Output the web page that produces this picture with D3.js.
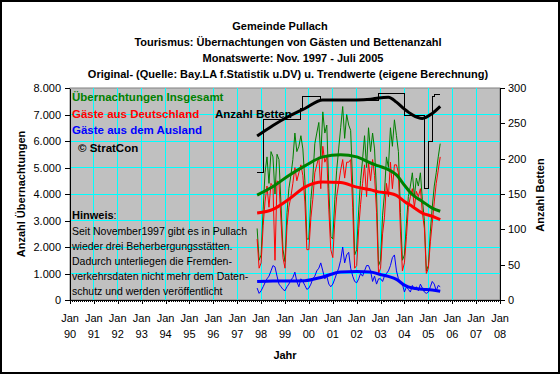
<!DOCTYPE html>
<html>
<head>
<meta charset="utf-8">
<script src="https://cdn.jsdelivr.net/npm/d3@7"></script>
<style>
  body { margin: 0; background: #fff; }
  svg { display: block; font-family: "Liberation Sans", Arial, sans-serif; }
</style>
</head>
<body>
<svg id="chart" width="560" height="374"></svg>
<script>
// Gemeinde Pullach - Übernachtungen und Betten, Monatswerte Nov. 1997 - Juli 2005

// monthly values, first value = Nov 1997
let insgesamt = [
  2700, 1500,
  1700, 3400, 4800, 5400, 4400, 5600, 5400, 4000, 5500, 5300, 3600, 1900,   // 1998
  1450, 3300, 4200, 4700, 5300, 6300, 5600, 5800, 6200, 5700, 4500, 2300,   // 1999
  2300, 3800, 4600, 5900, 6300, 6700, 5400, 7100, 6300, 6600, 4200, 2400,   // 2000
  2300, 3800, 4900, 5700, 6500, 7300, 6100, 7000, 6600, 6400, 4300, 1700,   // 2001
  1900, 3400, 4500, 5300, 6200, 5000, 6500, 5600, 6300, 5700, 4000, 1300,   // 2002
  1500, 3200, 4000, 5400, 5000, 6500, 5800, 6800, 6200, 5600, 3300, 1500,   // 2003
  1700, 2900, 3900, 4300, 4800, 3900, 4600, 4300, 4800, 3800, 3000, 1100,   // 2004
  1300, 2600, 3500, 4300, 4800, 5400, 5900                                  // 2005
];
let deutschland = [
  2300, 1200,
  1400, 2800, 3700, 4300, 3500, 4400, 4300, 1500, 4500, 4400, 3000, 1600,
  1200, 2800, 3500, 3900, 4400, 5000, 4500, 4800, 5100, 4700, 3700, 1900,
  1900, 3100, 3800, 4800, 5100, 5400, 4200, 5800, 5200, 5400, 3400, 1900,
  1600, 3000, 3900, 4400, 4900, 5300, 4600, 5200, 5200, 5300, 3500, 1200,
  1300, 2700, 3600, 4400, 5100, 3900, 5200, 4500, 5300, 4700, 3300, 1000,
  1200, 2500, 3100, 4400, 3900, 5200, 4200, 5100, 5100, 4800, 2600, 1100,
  1400, 2400, 3500, 3900, 4200, 3500, 4100, 3900, 4200, 3300, 2700, 1000,
  1200, 2200, 2900, 3700, 4400, 4900, 5400
];
let ausland = [
  450, 250,
  350, 500, 650, 800, 900, 1100, 1300, 1250, 900, 600, 500, 400,
  350, 500, 600, 750, 850, 1050, 700, 500, 800, 700, 550, 400,
  450, 600, 800, 900, 1100, 1200, 1400, 1100, 800, 900, 600, 500,
  600, 800, 1000, 1200, 1500, 2000, 1400, 1700, 1800, 1200, 900, 700,
  650, 800, 1000, 900, 1100, 1300, 1300, 1100, 700, 900, 600, 800,
  800, 700, 900, 1000, 1100, 1300, 1600, 1700, 1100, 800, 700, 600,
  300, 500, 400, 300, 550, 400, 500, 350, 600, 450, 300, 250,
  300, 500, 700, 600, 350, 550, 500
];

// Anzahl Betten (step values, month index from Nov 1997)
let bettenMonths = [0, 3, 22, 23, 32, 61, 74, 84, 86, 88, 89, 92];
let bettenValues = [180, 256, 271, 288, 283, 292, 261, 158, 224, 288, 291, 291];

// trend values (eigene Berechnung), month index from Nov 1997
let trendMonths      = [0, 8, 16, 24, 33, 42, 50, 57, 61, 66, 70, 74, 78, 83, 88, 92];
let trendInsgesamt   = [3960, 4280, 4700, 5060, 5400, 5480, 5400, 5170, 5060, 4920, 4720, 4330, 3980, 3720, 3470, 3350];
let trendDeutschland = [3280, 3420, 3800, 4260, 4450, 4430, 4260, 4160, 4080, 4040, 3950, 3720, 3530, 3280, 3160, 3030];
let trendAusland     = [700, 720, 720, 730, 870, 1060, 1080, 1060, 980, 890, 780, 560, 450, 410, 380, 330];
let trendBetten      = [232, 247, 260, 271, 283, 283, 283, 284, 286, 287, 280, 270, 262, 257, 264, 274];

let leftTicks = [0, 1000, 2000, 3000, 4000, 5000, 6000, 7000, 8000];
let rightTicks = [0, 50, 100, 150, 200, 250, 300];
let yearLabels = ["90","91","92","93","94","95","96","97","98","99","00","01","02","03","04","05","06","07","08"];

let titleLines = [
  "Gemeinde Pullach",
  "Tourismus: Übernachtungen von Gästen und Bettenanzahl",
  "Monatswerte: Nov. 1997 - Juli 2005",
  "Original- (Quelle: Bay.LA f.Statistik u.DV) u. Trendwerte (eigene Berechnung)"
];
let legendNames = ["Übernachtungen Insgesamt", "Gäste aus Deutschland", "Gäste aus dem Ausland"];
let legendColors = ["#008000", "#ff0000", "#0000ff"];
let hinweisLines = [
  "Seit November1997 gibt es in Pullach",
  "wieder drei Beherbergungsstätten.",
  "Dadurch unterliegen die Fremden-",
  "verkehrsdaten nicht mehr dem Daten-",
  "schutz und werden veröffentlicht"
];

let svg = d3.select("svg#chart");
let plotLeft = 70, plotRight = 500, plotTop = 88, plotBottom = 300;

let de = d3.formatLocale({decimal: ",", thousands: ".", grouping: [3], currency: ["", " €"]});
let fmt = de.format(",");

let monthDate = (i) => new Date(1997, 10 + i, 1);

let x = d3.scaleTime()
  .domain([new Date(1990, 0, 1), new Date(2008, 0, 1)])
  .range([plotLeft, plotRight]);
let y = d3.scaleLinear().domain([0, 8000]).range([plotBottom, plotTop]);
let yB = d3.scaleLinear().domain([0, 300]).range([plotBottom, plotTop]);

let years = d3.timeYear.range(new Date(1990, 0, 1), new Date(2008, 0, 2));
let months = d3.timeMonth.range(new Date(1990, 0, 1), new Date(2008, 0, 1));

// outer frame
svg.append("rect")
  .attr("x", 1).attr("y", 1).attr("width", 558).attr("height", 372)
  .attr("fill", "#fff").attr("stroke", "#000").attr("stroke-width", 2);

// titles
let titleX = [280, 288, 293, 288];
svg.append("g").selectAll("text")
  .data(titleLines)
  .join("text")
  .attr("x", (d, i) => titleX[i])
  .attr("y", (d, i) => 30 + i * 16)
  .attr("text-anchor", "middle")
  .attr("font-size", 11)
  .attr("font-weight", "bold")
  .text(d => d);

// plot area
svg.append("rect")
  .attr("x", plotLeft).attr("y", plotTop)
  .attr("width", plotRight - plotLeft).attr("height", plotBottom - plotTop)
  .attr("fill", "#c0c0c0").attr("stroke", "#808080");

let grid = svg.append("g").attr("stroke", "#00ffff").attr("shape-rendering", "crispEdges");
grid.selectAll("line.h")
  .data(leftTicks.slice(1, -1))
  .join("line").attr("class", "h")
  .attr("x1", plotLeft).attr("x2", plotRight)
  .attr("y1", d => y(d)).attr("y2", d => y(d));
grid.selectAll("line.v")
  .data(years.slice(1, -1))
  .join("line").attr("class", "v")
  .attr("x1", d => x(d)).attr("x2", d => x(d))
  .attr("y1", plotTop).attr("y2", plotBottom);

// text boxes in the plot (drawn before the lines)
let legend = svg.append("g").attr("font-weight", "bold").attr("font-size", 11.5);
legend.selectAll("text")
  .data(legendNames)
  .join("text")
  .attr("x", 72)
  .attr("y", (d, i) => [101, 118, 134][i])
  .attr("fill", (d, i) => legendColors[i])
  .text(d => d);
legend.append("text").attr("x", 78).attr("y", 152).text("© StratCon");
legend.append("text").attr("x", 215).attr("y", 118).text("Anzahl Betten");

let hinweis = svg.append("g").attr("font-size", 10.5);
hinweis.append("text").attr("x", 72).attr("y", 219)
  .call(t => t.append("tspan").attr("font-weight", "bold").attr("font-size", 11).text("Hinweis"))
  .call(t => t.append("tspan").text(":"));
hinweis.selectAll("text.l")
  .data(hinweisLines)
  .join("text").attr("class", "l")
  .attr("x", 72)
  .attr("y", (d, i) => 234.5 + i * 15)
  .text(d => d);

// data lines
let lineOf = (scale) => d3.line()
  .x((d, i) => x(monthDate(i)))
  .y(d => scale(d));

let thin = svg.append("g").attr("fill", "none").attr("stroke-width", 1);
thin.append("path").datum(insgesamt).attr("stroke", "#008000").attr("d", lineOf(y));
thin.append("path").datum(deutschland).attr("stroke", "#ff0000").attr("d", lineOf(y));
thin.append("path").datum(ausland).attr("stroke", "#0000ff").attr("d", lineOf(y));
thin.append("path")
  .datum(bettenMonths.map((m, i) => [m, bettenValues[i]]))
  .attr("stroke", "#000")
  .attr("shape-rendering", "crispEdges")
  .attr("d", d3.line().curve(d3.curveStepAfter)
    .x(d => x(monthDate(d[0]))).y(d => yB(d[1])));

let trendLine = (scale) => d3.line()
  .curve(d3.curveMonotoneX)
  .x(d => x(monthDate(d[0])))
  .y(d => scale(d[1]));
let trends = [
  [trendInsgesamt, "#008000", y],
  [trendDeutschland, "#ff0000", y],
  [trendAusland, "#0000ff", y],
  [trendBetten, "#000", yB]
];
let thick = svg.append("g").attr("fill", "none").attr("stroke-width", 3);
trends.forEach(([vals, col, sc]) => {
  thick.append("path")
    .datum(trendMonths.map((m, i) => [m, vals[i]]))
    .attr("stroke", col)
    .attr("d", trendLine(sc));
});

// axes
let axisL = svg.append("g")
  .attr("transform", `translate(${plotLeft},0)`)
  .call(d3.axisLeft(y).tickValues(leftTicks).tickFormat(fmt).tickSize(5).tickPadding(4).tickSizeOuter(0));
let axisR = svg.append("g")
  .attr("transform", `translate(${plotRight},0)`)
  .call(d3.axisRight(yB).tickValues(rightTicks).tickSize(5).tickPadding(3).tickSizeOuter(0));
svg.append("g")
  .attr("transform", `translate(0,${plotBottom})`)
  .call(d3.axisBottom(x).tickValues(years).tickFormat("").tickSize(4).tickSizeOuter(0));
svg.append("g")
  .attr("transform", `translate(0,${plotBottom})`)
  .call(d3.axisBottom(x).tickValues(months).tickFormat("").tickSize(2).tickSizeOuter(0));

[axisL, axisR].forEach(a => a.attr("font-family", null).attr("font-size", 11));
svg.selectAll(".domain, .tick line").attr("stroke", "#000").attr("shape-rendering", "crispEdges");

// year labels
let xl = svg.append("g").attr("font-size", 11).attr("text-anchor", "middle");
xl.selectAll("text.m")
  .data(years)
  .join("text").attr("class", "m")
  .attr("x", d => x(d)).attr("y", 322)
  .text("Jan");
xl.selectAll("text.y")
  .data(years)
  .join("text").attr("class", "y")
  .attr("x", d => x(d)).attr("y", 338)
  .text((d, i) => yearLabels[i]);

// axis titles
let at = svg.append("g").attr("font-size", 11).attr("font-weight", "bold").attr("text-anchor", "middle");
at.append("text").attr("x", 285).attr("y", 359).text("Jahr");
at.append("text").attr("transform", "translate(25,194) rotate(-90)").text("Anzahl Übernachtungen");
at.append("text").attr("transform", "translate(544,195) rotate(-90)").text("Anzahl Betten");
</script>
</body>
</html>
